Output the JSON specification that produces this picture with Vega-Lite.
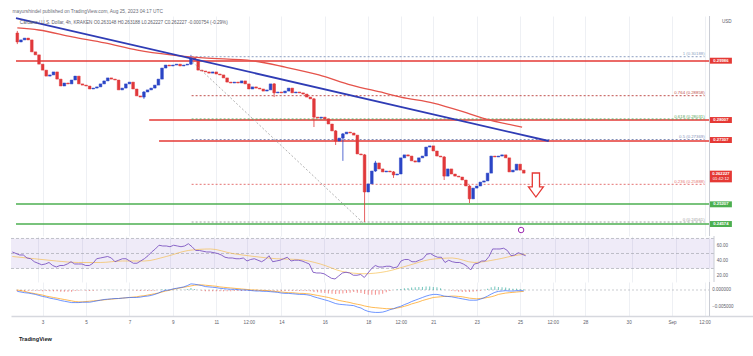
{
"$schema":"https://vega.github.io/schema/vega-lite/v6.json",
"autosize":{"type":"pad"},
"padding":{"left":10,"top":8,"right":0,"bottom":0},
"background":"#ffffff",
"spacing":0,
"bounds":"flush",
"config":{"view":{"stroke":null},"font":"Liberation Sans","concat":{"spacing":0}},
"title":{"text":"mayurshindel published on TradingView.com, Aug 25, 2023 04:17 UTC","anchor":"start","fontSize":4.8,"fontWeight":"normal","color":"#6a6d78","offset":2,"dx":2,"dy":1},
"datasets":{
"c":[
{"t":1.8333,"o":0.3091,"c":0.3061,"hi":0.3098,"lo":0.3054,"r":52,"m":-0.0004,"s":0.0,"hg":-0.0004},
{"t":2,"o":0.3061,"c":0.3068,"r":50,"m":-0.0006,"s":-0.0002,"hg":-0.0004},
{"t":2.1667,"o":0.3068,"c":0.3074,"r":48,"m":-0.0008,"s":-0.0004,"hg":-0.0004},
{"t":2.3333,"o":0.3074,"c":0.3068,"r":48,"m":-0.0009,"s":-0.0007,"hg":-0.0002},
{"t":2.5,"o":0.3068,"c":0.3028,"r":44,"m":-0.0011,"s":-0.0009,"hg":-0.0002},
{"t":2.6667,"o":0.3028,"c":0.3018,"r":43,"m":-0.0013,"s":-0.0011,"hg":-0.0002},
{"t":2.8333,"o":0.3018,"c":0.2987,"r":39,"m":-0.0016,"s":-0.0013,"hg":-0.0003},
{"t":3,"o":0.2987,"c":0.2967,"r":37,"m":-0.0019,"s":-0.0015,"hg":-0.0004},
{"t":3.1667,"o":0.2967,"c":0.2947,"r":35,"m":-0.0021,"s":-0.0018,"hg":-0.0003},
{"t":3.3333,"o":0.2947,"c":0.2951,"r":36,"m":-0.0024,"s":-0.002,"hg":-0.0004},
{"t":3.5,"o":0.2951,"c":0.2961,"r":38,"m":-0.0026,"s":-0.0022,"hg":-0.0004},
{"t":3.6667,"o":0.2961,"c":0.2937,"r":34,"m":-0.0028,"s":-0.0024,"hg":-0.0004},
{"t":3.8333,"o":0.2937,"c":0.2914,"r":32,"m":-0.0031,"s":-0.0026,"hg":-0.0005},
{"t":4,"o":0.2914,"c":0.2924,"r":34,"m":-0.0033,"s":-0.0028,"hg":-0.0005},
{"t":4.1667,"o":0.2924,"c":0.2921,"r":34,"m":-0.0035,"s":-0.003,"hg":-0.0005},
{"t":4.3333,"o":0.2921,"c":0.2934,"r":36,"m":-0.0037,"s":-0.0032,"hg":-0.0005},
{"t":4.5,"o":0.2934,"c":0.2947,"r":39,"m":-0.0037,"s":-0.0034,"hg":-0.0003},
{"t":4.6667,"o":0.2947,"c":0.2921,"r":36,"m":-0.0037,"s":-0.0035,"hg":-0.0002},
{"t":4.8333,"o":0.2921,"c":0.2917,"r":36,"m":-0.0036,"s":-0.0035,"hg":-0.0001},
{"t":5,"o":0.2917,"c":0.2914,"r":36,"m":-0.0036,"s":-0.0034,"hg":-0.0002},
{"t":5.1667,"o":0.2914,"c":0.2904,"r":34,"m":-0.0036,"s":-0.0033,"hg":-0.0003},
{"t":5.3333,"o":0.2904,"c":0.2907,"r":34,"m":-0.0034,"s":-0.0032,"hg":-0.0002},
{"t":5.5,"o":0.2907,"c":0.2911,"r":37,"m":-0.0032,"s":-0.0031,"hg":-0.0001},
{"t":5.6667,"o":0.2911,"c":0.2921,"r":43,"m":-0.003,"s":-0.003,"hg":0.0},
{"t":5.8333,"o":0.2921,"c":0.2931,"r":44,"m":-0.0028,"s":-0.0029,"hg":0.0001},
{"t":6,"o":0.2931,"c":0.2941,"r":45,"m":-0.0027,"s":-0.0028,"hg":0.0001},
{"t":6.1667,"o":0.2941,"c":0.2937,"r":46,"m":-0.0026,"s":-0.0027,"hg":0.0001},
{"t":6.3333,"o":0.2937,"c":0.2934,"r":44,"m":-0.0025,"s":-0.0026,"hg":0.0001},
{"t":6.5,"o":0.2934,"c":0.2901,"r":39,"m":-0.0025,"s":-0.0025,"hg":0.0},
{"t":6.6667,"o":0.2901,"c":0.2907,"r":41,"m":-0.0024,"s":-0.0024,"hg":0.0},
{"t":6.8333,"o":0.2907,"c":0.2921,"r":43,"m":-0.0023,"s":-0.0023,"hg":0.0},
{"t":7,"o":0.2921,"c":0.2927,"r":43,"m":-0.0022,"s":-0.0022,"hg":0.0},
{"t":7.1667,"o":0.2927,"c":0.2904,"r":40,"m":-0.0022,"s":-0.0021,"hg":-0.0001},
{"t":7.3333,"o":0.2904,"c":0.2881,"r":37,"m":-0.0022,"s":-0.002,"hg":-0.0002},
{"t":7.5,"o":0.2881,"c":0.2877,"r":37,"m":-0.0021,"s":-0.0018,"hg":-0.0003},
{"t":7.6667,"o":0.2877,"c":0.2894,"hi":0.2897,"lo":0.2871,"r":40,"m":-0.0019,"s":-0.0017,"hg":-0.0002},
{"t":7.8333,"o":0.2894,"c":0.2901,"r":43,"m":-0.0018,"s":-0.0015,"hg":-0.0003},
{"t":8,"o":0.2901,"c":0.2907,"r":47,"m":-0.0016,"s":-0.0013,"hg":-0.0003},
{"t":8.1667,"o":0.2907,"c":0.2917,"r":52,"m":-0.0013,"s":-0.0011,"hg":-0.0002},
{"t":8.3333,"o":0.2917,"c":0.2937,"r":56,"m":-0.0009,"s":-0.0009,"hg":0.0},
{"t":8.5,"o":0.2937,"c":0.2974,"r":61,"m":-0.0004,"s":-0.0006,"hg":0.0002},
{"t":8.6667,"o":0.2974,"c":0.2984,"r":60,"m":-0.0001,"s":-0.0003,"hg":0.0002},
{"t":8.8333,"o":0.2984,"c":0.2981,"r":60,"m":0.0,"s":-0.0001,"hg":0.0001},
{"t":9,"o":0.2981,"c":0.2984,"r":59,"m":0.0003,"s":0.0002,"hg":0.0001},
{"t":9.1667,"o":0.2984,"c":0.2987,"r":61,"m":0.0005,"s":0.0004,"hg":0.0001},
{"t":9.3333,"o":0.2987,"c":0.2981,"r":60,"m":0.0007,"s":0.0006,"hg":0.0001},
{"t":9.5,"o":0.2981,"c":0.2984,"r":59,"m":0.0009,"s":0.0008,"hg":0.0001},
{"t":9.6667,"o":0.2984,"c":0.2987,"r":60,"m":0.0013,"s":0.001,"hg":0.0003},
{"t":9.8333,"o":0.2987,"c":0.3008,"hi":0.3018,"lo":0.2984,"r":63,"m":0.0018,"s":0.0012,"hg":0.0006},
{"t":10,"o":0.3008,"c":0.3001,"r":59,"m":0.0017,"s":0.0014,"hg":0.0003},
{"t":10.1667,"o":0.3001,"c":0.2967,"r":54,"m":0.0015,"s":0.0015,"hg":0.0},
{"t":10.3333,"o":0.2967,"c":0.2964,"r":54,"m":0.0013,"s":0.0015,"hg":-0.0002},
{"t":10.5,"o":0.2964,"c":0.2961,"r":53,"m":0.001,"s":0.0014,"hg":-0.0004},
{"t":10.6667,"o":0.2961,"c":0.2957,"r":52,"m":0.0009,"s":0.0013,"hg":-0.0004},
{"t":10.8333,"o":0.2957,"c":0.2961,"r":52,"m":0.0008,"s":0.0012,"hg":-0.0004},
{"t":11,"o":0.2961,"c":0.2954,"r":51,"m":0.0007,"s":0.0011,"hg":-0.0004},
{"t":11.1667,"o":0.2954,"c":0.2951,"r":50,"m":0.0005,"s":0.0009,"hg":-0.0004},
{"t":11.3333,"o":0.2951,"c":0.2941,"r":48,"m":0.0004,"s":0.0008,"hg":-0.0004},
{"t":11.5,"o":0.2941,"c":0.2927,"r":45,"m":0.0003,"s":0.0007,"hg":-0.0004},
{"t":11.6667,"o":0.2927,"c":0.2924,"r":44,"m":0.0002,"s":0.0006,"hg":-0.0004},
{"t":11.8333,"o":0.2924,"c":0.2927,"r":44,"m":0.0002,"s":0.0005,"hg":-0.0003},
{"t":12,"o":0.2927,"c":0.2924,"r":43,"m":0.0001,"s":0.0004,"hg":-0.0003},
{"t":12.1667,"o":0.2924,"c":0.2931,"r":43,"m":0.0,"s":0.0003,"hg":-0.0003},
{"t":12.3333,"o":0.2931,"c":0.2921,"r":44,"m":0.0,"s":0.0002,"hg":-0.0002},
{"t":12.5,"o":0.2921,"c":0.2904,"r":40,"m":-0.0001,"s":0.0001,"hg":-0.0002},
{"t":12.6667,"o":0.2904,"c":0.2911,"r":42,"m":-0.0002,"s":0.0,"hg":-0.0002},
{"t":12.8333,"o":0.2911,"c":0.2907,"r":43,"m":-0.0003,"s":0.0,"hg":-0.0003},
{"t":13,"o":0.2907,"c":0.2904,"r":41,"m":-0.0003,"s":-0.0001,"hg":-0.0002},
{"t":13.1667,"o":0.2904,"c":0.2897,"r":39,"m":-0.0004,"s":-0.0001,"hg":-0.0003},
{"t":13.3333,"o":0.2897,"c":0.2901,"r":42,"m":-0.0004,"s":-0.0002,"hg":-0.0002},
{"t":13.5,"o":0.2901,"c":0.2921,"r":47,"m":-0.0005,"s":-0.0003,"hg":-0.0002},
{"t":13.6667,"o":0.2921,"c":0.2891,"hi":0.2924,"lo":0.2877,"r":39,"m":-0.0006,"s":-0.0004,"hg":-0.0002},
{"t":13.8333,"o":0.2891,"c":0.2894,"r":40,"m":-0.0007,"s":-0.0005,"hg":-0.0002},
{"t":14,"o":0.2894,"c":0.2891,"r":41,"m":-0.0009,"s":-0.0006,"hg":-0.0003},
{"t":14.1667,"o":0.2891,"c":0.2897,"r":43,"m":-0.001,"s":-0.0007,"hg":-0.0003},
{"t":14.3333,"o":0.2897,"c":0.2907,"r":45,"m":-0.001,"s":-0.0008,"hg":-0.0002},
{"t":14.5,"o":0.2907,"c":0.2891,"r":40,"m":-0.0011,"s":-0.0008,"hg":-0.0003},
{"t":14.6667,"o":0.2891,"c":0.2894,"r":41,"m":-0.0012,"s":-0.0009,"hg":-0.0003},
{"t":14.8333,"o":0.2894,"c":0.2891,"r":41,"m":-0.0013,"s":-0.001,"hg":-0.0003},
{"t":15,"o":0.2891,"c":0.2887,"r":40,"m":-0.0013,"s":-0.001,"hg":-0.0003},
{"t":15.1667,"o":0.2887,"c":0.2877,"r":38,"m":-0.0014,"s":-0.0011,"hg":-0.0003},
{"t":15.3333,"o":0.2877,"c":0.2871,"r":36,"m":-0.0016,"s":-0.0012,"hg":-0.0004},
{"t":15.5,"o":0.2871,"c":0.281,"hi":0.2874,"lo":0.2777,"r":25,"m":-0.002,"s":-0.0014,"hg":-0.0006},
{"t":15.6667,"o":0.281,"c":0.2807,"r":24,"m":-0.0023,"s":-0.0016,"hg":-0.0007},
{"t":15.8333,"o":0.2807,"c":0.281,"r":24,"m":-0.0026,"s":-0.0018,"hg":-0.0008},
{"t":16,"o":0.281,"c":0.2804,"r":23,"m":-0.0029,"s":-0.002,"hg":-0.0009},
{"t":16.1667,"o":0.2804,"c":0.2787,"r":20,"m":-0.0032,"s":-0.0022,"hg":-0.001},
{"t":16.3333,"o":0.2787,"c":0.2764,"r":17,"m":-0.0036,"s":-0.0025,"hg":-0.0011},
{"t":16.5,"o":0.2764,"c":0.273,"hi":0.2767,"lo":0.2717,"r":16,"m":-0.004,"s":-0.0028,"hg":-0.0012},
{"t":16.6667,"o":0.273,"c":0.274,"r":20,"m":-0.0042,"s":-0.0031,"hg":-0.0011},
{"t":16.8333,"o":0.274,"c":0.2754,"hi":0.2757,"lo":0.2664,"r":24,"m":-0.0043,"s":-0.0033,"hg":-0.001},
{"t":17,"o":0.2754,"c":0.276,"r":25,"m":-0.0044,"s":-0.0035,"hg":-0.0009},
{"t":17.1667,"o":0.276,"c":0.2757,"r":24,"m":-0.0045,"s":-0.0037,"hg":-0.0008},
{"t":17.3333,"o":0.2757,"c":0.275,"r":21,"m":-0.0046,"s":-0.004,"hg":-0.0006},
{"t":17.5,"o":0.275,"c":0.2687,"r":21,"m":-0.005,"s":-0.0042,"hg":-0.0008},
{"t":17.6667,"o":0.2687,"c":0.2684,"r":22,"m":-0.0053,"s":-0.0044,"hg":-0.0009},
{"t":17.8333,"o":0.2684,"c":0.256,"hi":0.2687,"lo":0.246,"r":18,"m":-0.0059,"s":-0.0047,"hg":-0.0012},
{"t":18,"o":0.256,"c":0.2587,"r":24,"m":-0.0063,"s":-0.0049,"hg":-0.0014},
{"t":18.1667,"o":0.2587,"c":0.263,"r":30,"m":-0.0065,"s":-0.0051,"hg":-0.0014},
{"t":18.3333,"o":0.263,"c":0.2657,"hi":0.2664,"lo":0.2627,"r":34,"m":-0.0066,"s":-0.0052,"hg":-0.0014},
{"t":18.5,"o":0.2657,"c":0.2637,"r":32,"m":-0.0066,"s":-0.0053,"hg":-0.0013},
{"t":18.6667,"o":0.2637,"c":0.2627,"r":32,"m":-0.0065,"s":-0.0054,"hg":-0.0011},
{"t":18.8333,"o":0.2627,"c":0.263,"r":33,"m":-0.0062,"s":-0.0055,"hg":-0.0007},
{"t":19,"o":0.263,"c":0.2627,"r":33,"m":-0.0058,"s":-0.0055,"hg":-0.0003},
{"t":19.1667,"o":0.2627,"c":0.2617,"hi":0.263,"lo":0.2607,"r":31,"m":-0.0055,"s":-0.0055,"hg":0.0},
{"t":19.3333,"o":0.2617,"c":0.262,"r":32,"m":-0.0051,"s":-0.0053,"hg":0.0002},
{"t":19.5,"o":0.262,"c":0.2674,"r":40,"m":-0.0048,"s":-0.0051,"hg":0.0003},
{"t":19.6667,"o":0.2674,"c":0.2684,"r":42,"m":-0.0043,"s":-0.0048,"hg":0.0005},
{"t":19.8333,"o":0.2684,"c":0.268,"r":42,"m":-0.0039,"s":-0.0045,"hg":0.0006},
{"t":20,"o":0.268,"c":0.2664,"r":39,"m":-0.0034,"s":-0.0041,"hg":0.0007},
{"t":20.1667,"o":0.2664,"c":0.266,"r":39,"m":-0.003,"s":-0.0038,"hg":0.0008},
{"t":20.3333,"o":0.266,"c":0.2674,"r":41,"m":-0.0026,"s":-0.0035,"hg":0.0009},
{"t":20.5,"o":0.2674,"c":0.268,"r":43,"m":-0.0022,"s":-0.0031,"hg":0.0009},
{"t":20.6667,"o":0.268,"c":0.271,"r":49,"m":-0.0018,"s":-0.0028,"hg":0.001},
{"t":20.8333,"o":0.271,"c":0.2714,"r":50,"m":-0.0015,"s":-0.0025,"hg":0.001},
{"t":21,"o":0.2714,"c":0.2697,"r":47,"m":-0.0013,"s":-0.0022,"hg":0.0009},
{"t":21.1667,"o":0.2697,"c":0.268,"r":45,"m":-0.0013,"s":-0.0021,"hg":0.0008},
{"t":21.3333,"o":0.268,"c":0.2677,"r":45,"m":-0.0015,"s":-0.002,"hg":0.0005},
{"t":21.5,"o":0.2677,"c":0.2613,"hi":0.268,"lo":0.26,"r":38,"m":-0.0018,"s":-0.0019,"hg":0.0001},
{"t":21.6667,"o":0.2613,"c":0.2637,"r":41,"m":-0.0019,"s":-0.0019,"hg":0.0},
{"t":21.8333,"o":0.2637,"c":0.262,"r":39,"m":-0.002,"s":-0.0018,"hg":-0.0002},
{"t":22,"o":0.262,"c":0.2613,"r":38,"m":-0.0022,"s":-0.0018,"hg":-0.0004},
{"t":22.1667,"o":0.2613,"c":0.261,"r":38,"m":-0.0024,"s":-0.0019,"hg":-0.0005},
{"t":22.3333,"o":0.261,"c":0.26,"r":36,"m":-0.0026,"s":-0.002,"hg":-0.0006},
{"t":22.5,"o":0.26,"c":0.258,"r":33,"m":-0.0028,"s":-0.0022,"hg":-0.0006},
{"t":22.6667,"o":0.258,"c":0.2537,"hi":0.2583,"lo":0.2523,"r":28,"m":-0.003,"s":-0.0024,"hg":-0.0006},
{"t":22.8333,"o":0.2537,"c":0.2573,"r":36,"m":-0.003,"s":-0.0025,"hg":-0.0005},
{"t":23,"o":0.2573,"c":0.258,"r":37,"m":-0.003,"s":-0.0026,"hg":-0.0004},
{"t":23.1667,"o":0.258,"c":0.2593,"r":40,"m":-0.0027,"s":-0.0025,"hg":-0.0002},
{"t":23.3333,"o":0.2593,"c":0.2597,"r":40,"m":-0.0023,"s":-0.0024,"hg":0.0001},
{"t":23.5,"o":0.2597,"c":0.2623,"r":46,"m":-0.0018,"s":-0.0022,"hg":0.0004},
{"t":23.6667,"o":0.2623,"c":0.268,"r":56,"m":-0.0012,"s":-0.002,"hg":0.0008},
{"t":23.8333,"o":0.268,"c":0.2677,"r":56,"m":-0.0007,"s":-0.0017,"hg":0.001},
{"t":24,"o":0.2677,"c":0.268,"r":56,"m":-0.0004,"s":-0.0013,"hg":0.0009},
{"t":24.1667,"o":0.268,"c":0.2684,"r":57,"m":-0.0003,"s":-0.0011,"hg":0.0008},
{"t":24.3333,"o":0.2684,"c":0.2674,"r":54,"m":-0.0002,"s":-0.0009,"hg":0.0007},
{"t":24.5,"o":0.2674,"c":0.2627,"r":47,"m":-0.0003,"s":-0.0008,"hg":0.0005},
{"t":24.6667,"o":0.2627,"c":0.2633,"r":48,"m":-0.0003,"s":-0.0007,"hg":0.0004},
{"t":24.8333,"o":0.2633,"c":0.2653,"r":51,"m":-0.0002,"s":-0.0006,"hg":0.0004},
{"t":25,"o":0.2653,"c":0.2633,"r":49,"m":-0.0002,"s":-0.0005,"hg":0.0003},
{"t":25.1667,"o":0.2633,"c":0.2623,"r":47,"m":-0.0002,"s":-0.0004,"hg":0.0002}
],
"ma":[{"t":1.8333,"p":0.3108},{"t":2.818,"p":0.3101},{"t":4.364,"p":0.3078},{"t":5.864,"p":0.3058},{"t":7.364,"p":0.3034},{"t":8.909,"p":0.3018},{"t":10.409,"p":0.3008},{"t":12.682,"p":0.2998},{"t":14.182,"p":0.2977},{"t":15.727,"p":0.2951},{"t":17.227,"p":0.2917},{"t":18.727,"p":0.2891},{"t":19.5,"p":0.2877},{"t":21,"p":0.2857},{"t":22.545,"p":0.2824},{"t":23.273,"p":0.2807},{"t":25.091,"p":0.2777}],
"rsima":[{"t":1.8333,"v":46},{"t":2.8333,"v":43},{"t":3.8333,"v":40},{"t":4.8333,"v":38},{"t":5.8333,"v":38},{"t":6.8333,"v":40},{"t":7.8333,"v":40},{"t":8.8333,"v":46},{"t":9.8333,"v":54},{"t":10.8333,"v":56},{"t":11.8333,"v":50},{"t":12.8333,"v":46},{"t":13.8333,"v":43},{"t":14.8333,"v":42},{"t":15.8333,"v":36},{"t":16.8333,"v":26},{"t":17.8333,"v":23},{"t":18.8333,"v":26},{"t":19.8333,"v":34},{"t":20.8333,"v":42},{"t":21.8333,"v":44},{"t":22.8333,"v":38},{"t":23.8333,"v":42},{"t":24.8333,"v":48},{"t":25.1667,"v":49}],
"hl":[{"p":0.29975,"a":1.7727,"b":33.727,"k":"red"},{"p":0.28004,"a":7.909,"b":33.727,"k":"red"},{"p":0.27303,"a":8.364,"b":33.727,"k":"red"},{"p":0.25198,"a":1.7727,"b":33.727,"k":"green"},{"p":0.2453,"a":1.7727,"b":33.727,"k":"green"}],
"fib":[{"p":0.30118,"lab":"1 (0.30188)","lv":"1"},{"p":0.28816,"lab":"0.764 (0.28858)","lv":"0.764"},{"p":0.28037,"lab":"0.618 (0.28031)","lv":"0.618"},{"p":0.27353,"lab":"0.5 (0.27369)","lv":"0.5"},{"p":0.25856,"lab":"0.236 (0.25888)","lv":"0.236"},{"p":0.24597,"lab":"0 (0.24561)","lv":"0"}],
"box":[{"p":0.29985,"lab":"0.29986","k":"red"},{"p":0.28004,"lab":"0.28007","k":"red"},{"p":0.27336,"lab":"0.27307","k":"red"},{"p":0.25188,"lab":"0.25207","k":"green"},{"p":0.2453,"lab":"0.24574","k":"green"}]
},
"vconcat":[
{"width":743,"height":220,
"resolve":{"scale":{"color":"independent"}},
"layer":[
{"data":{"name":"hl"},"mark":{"type":"rule","strokeWidth":1.3},
"encoding":{"x":{"field":"a","type":"quantitative","scale":{"domain":[1.7727,35.545],"nice":false,"zero":false},"axis":{"values":[3,5,7,9,11,12.5,14,16,18,19.5,21,23,25,26.5,28,30,32,33.5],"grid":true,"gridColor":"#eef0f4","labels":false,"ticks":false,"domain":false,"title":null}},"x2":{"field":"b"},
"y":{"field":"p","type":"quantitative","scale":{"domain":[0.2413,0.31478],"nice":false,"zero":false},"axis":null},
"color":{"field":"k","type":"nominal","scale":{"domain":["red","green"],"range":["#e53935","#4caf50"]},"legend":null}}},
{"data":{"name":"fib"},"mark":{"type":"rule","strokeWidth":1,"strokeDash":[2,2]},
"encoding":{"x":{"datum":9.864,"type":"quantitative","scale":{"domain":[1.7727,35.545],"nice":false,"zero":false}},"x2":{"datum":33.5},
"y":{"field":"p","type":"quantitative","scale":{"domain":[0.2413,0.31478],"nice":false,"zero":false},"axis":null},
"color":{"field":"lv","type":"nominal","scale":{"domain":["1","0.764","0.618","0.5","0.236","0"],"range":["#8d9fc2","#c0504d","#5aa55a","#8390b8","#e57373","#9e9e9e"]},"legend":null}}},
{"data":{"name":"fib"},"mark":{"type":"text","align":"right","baseline":"bottom","dy":-0.5,"fontSize":4.3},
"encoding":{"x":{"datum":33.5,"type":"quantitative","scale":{"domain":[1.7727,35.545],"nice":false,"zero":false}},
"y":{"field":"p","type":"quantitative","scale":{"domain":[0.2413,0.31478],"nice":false,"zero":false},"axis":null},
"text":{"field":"lab"},
"color":{"field":"lv","type":"nominal","scale":{"domain":["1","0.764","0.618","0.5","0.236","0"],"range":["#8d9fc2","#c0504d","#5aa55a","#8390b8","#e57373","#9e9e9e"]},"legend":null}}},
{"data":{"name":"c"},"transform":[{"filter":"isValid(datum.lo)"}],"mark":{"type":"rule","strokeWidth":0.8},
"encoding":{"x":{"field":"t","type":"quantitative","scale":{"domain":[1.7727,35.545],"nice":false,"zero":false}},
"y":{"field":"lo","type":"quantitative","scale":{"domain":[0.2413,0.31478],"nice":false,"zero":false},"axis":null},"y2":{"field":"hi"},
"color":{"condition":{"test":"datum.c<datum.o","value":"#e0383b"},"value":"#2b45c6"}}},
{"data":{"name":"c"},"mark":{"type":"bar","width":2.7,"strokeWidth":0.5},
"encoding":{"x":{"field":"t","type":"quantitative","scale":{"domain":[1.7727,35.545],"nice":false,"zero":false}},
"y":{"field":"o","type":"quantitative","scale":{"domain":[0.2413,0.31478],"nice":false,"zero":false},"axis":null},"y2":{"field":"c"},
"color":{"condition":{"test":"datum.c<datum.o","value":"#e0383b"},"value":"#2b45c6"},
"stroke":{"condition":{"test":"datum.c<datum.o","value":"#e0383b"},"value":"#2b45c6"}}},
{"data":{"name":"ma"},"mark":{"type":"line","color":"#e5534b","strokeWidth":1.3,"interpolate":"monotone"},
"encoding":{"x":{"field":"t","type":"quantitative","scale":{"domain":[1.7727,35.545],"nice":false,"zero":false}},
"y":{"field":"p","type":"quantitative","scale":{"domain":[0.2413,0.31478],"nice":false,"zero":false},"axis":null}}},
{"data":{"values":[{"t":9.909,"p":0.29941},{"t":17.773,"p":0.24564}]},"mark":{"type":"line","color":"#9e9e9e","strokeWidth":0.8,"strokeDash":[2,2]},
"encoding":{"x":{"field":"t","type":"quantitative","scale":{"domain":[1.7727,35.545],"nice":false,"zero":false}},
"y":{"field":"p","type":"quantitative","scale":{"domain":[0.2413,0.31478],"nice":false,"zero":false},"axis":null}}},
{"data":{"values":[{"t":1.7727,"p":0.31411},{"t":26.318,"p":0.27303}]},"mark":{"type":"line","color":"#2f3cb5","strokeWidth":1.8},
"encoding":{"x":{"field":"t","type":"quantitative","scale":{"domain":[1.7727,35.545],"nice":false,"zero":false}},
"y":{"field":"p","type":"quantitative","scale":{"domain":[0.2413,0.31478],"nice":false,"zero":false},"axis":null}}},
{"data":{"values":[{"txt":"Cardano / U.S. Dollar, 4h, KRAKEN  O0.263148  H0.263188  L0.262227  C0.262227  -0.000754 (-0.29%)"}]},"mark":{"type":"text","align":"left","baseline":"middle","fontSize":4.6,"color":"#5d606b"},
"encoding":{"x":{"datum":1.95,"type":"quantitative","scale":{"domain":[1.7727,35.545],"nice":false,"zero":false}},"y":{"datum":0.3125,"type":"quantitative","scale":{"domain":[0.2413,0.31478],"nice":false,"zero":false},"axis":null},"text":{"field":"txt"}}},
{"data":{"values":[{"t":25.727,"p":0.25833}]},"mark":{"type":"point","shape":"M-0.3,-1L0.3,-1L0.3,0.15L0.62,0.15L0,1L-0.62,0.15L-0.3,0.15Z","size":576,"filled":true,"fill":"#ffffff","stroke":"#e53935","strokeWidth":1.3,"opacity":1},
"encoding":{"x":{"field":"t","type":"quantitative","scale":{"domain":[1.7727,35.545],"nice":false,"zero":false}},"y":{"field":"p","type":"quantitative","scale":{"domain":[0.2413,0.31478],"nice":false,"zero":false},"axis":null}}},
{"data":{"values":[{"t":25.045,"p":0.2433}]},"mark":{"type":"point","shape":"circle","size":30,"filled":true,"fill":"#ffffff","stroke":"#9c27b0","strokeWidth":1,"opacity":1},
"encoding":{"x":{"field":"t","type":"quantitative","scale":{"domain":[1.7727,35.545],"nice":false,"zero":false}},"y":{"field":"p","type":"quantitative","scale":{"domain":[0.2413,0.31478],"nice":false,"zero":false},"axis":null}}},
{"data":{"values":[{}]},"mark":{"type":"rule","color":"#c9ccd4","strokeWidth":1},
"encoding":{"x":{"datum":33.727,"type":"quantitative","scale":{"domain":[1.7727,35.545],"nice":false,"zero":false}}}},
{"data":{"name":"box"},"mark":{"type":"point","shape":"M-1,-0.27L1,-0.27L1,0.27L-1,0.27Z","size":484,"filled":true,"opacity":1},
"encoding":{"x":{"datum":34.25,"type":"quantitative","scale":{"domain":[1.7727,35.545],"nice":false,"zero":false}},"y":{"field":"p","type":"quantitative","scale":{"domain":[0.2413,0.31478],"nice":false,"zero":false},"axis":null},
"color":{"field":"k","type":"nominal","scale":{"domain":["red","green"],"range":["#e53935","#4caf50"]},"legend":null}}},
{"data":{"name":"box"},"mark":{"type":"text","fontSize":4.2,"fontWeight":"bold","color":"#ffffff","align":"center","baseline":"middle"},
"encoding":{"x":{"datum":34.25,"type":"quantitative","scale":{"domain":[1.7727,35.545],"nice":false,"zero":false}},"y":{"field":"p","type":"quantitative","scale":{"domain":[0.2413,0.31478],"nice":false,"zero":false},"axis":null},"text":{"field":"lab"}}},
{"data":{"values":[{"p":0.26117}]},"mark":{"type":"point","shape":"M-1,-0.53L1,-0.53L1,0.53L-1,0.53Z","size":484,"filled":true,"color":"#e53935","opacity":1},
"encoding":{"x":{"datum":34.25,"type":"quantitative","scale":{"domain":[1.7727,35.545],"nice":false,"zero":false}},"y":{"field":"p","type":"quantitative","scale":{"domain":[0.2413,0.31478],"nice":false,"zero":false},"axis":null}}},
{"data":{"values":[{"p":0.26117,"a":"0.262227","b":"01:42:12"}]},"mark":{"type":"text","fontSize":4.2,"fontWeight":"bold","color":"#ffffff","align":"center","baseline":"middle","dy":-2.6},
"encoding":{"x":{"datum":34.25,"type":"quantitative","scale":{"domain":[1.7727,35.545],"nice":false,"zero":false}},"y":{"field":"p","type":"quantitative","scale":{"domain":[0.2413,0.31478],"nice":false,"zero":false},"axis":null},"text":{"field":"a"}}},
{"data":{"values":[{"p":0.26117,"a":"0.262227","b":"01:42:12"}]},"mark":{"type":"text","fontSize":4.2,"color":"#ffffff","align":"center","baseline":"middle","dy":2.6},
"encoding":{"x":{"datum":34.25,"type":"quantitative","scale":{"domain":[1.7727,35.545],"nice":false,"zero":false}},"y":{"field":"p","type":"quantitative","scale":{"domain":[0.2413,0.31478],"nice":false,"zero":false},"axis":null},"text":{"field":"b"}}},
{"data":{"values":[{"txt":"USD"}]},"mark":{"type":"text","fontSize":4.6,"color":"#5d606b","align":"left","baseline":"middle"},
"encoding":{"x":{"datum":34.3,"type":"quantitative","scale":{"domain":[1.7727,35.545],"nice":false,"zero":false}},"y":{"datum":0.3128,"type":"quantitative","scale":{"domain":[0.2413,0.31478],"nice":false,"zero":false},"axis":null},"text":{"field":"txt"}}}
]},
{"width":743,"height":46,
"layer":[
{"data":{"values":[{}]},"mark":{"type":"rect","color":"#7e57c2","opacity":0.12},
"encoding":{"x":{"datum":1.7727,"type":"quantitative","scale":{"domain":[1.7727,35.545],"nice":false,"zero":false},"axis":{"values":[3,5,7,9,11,12.5,14,16,18,19.5,21,23,25,26.5,28,30,32,33.5],"grid":true,"gridColor":"#eef0f4","labels":false,"ticks":false,"domain":false,"title":null}},"x2":{"datum":33.727},
"y":{"datum":30,"type":"quantitative","scale":{"domain":[12,73.3],"nice":false,"zero":false},"axis":null},"y2":{"datum":70}}},
{"data":{"values":[{"v":70},{"v":50},{"v":30}]},"mark":{"type":"rule","color":"#9598a1","strokeWidth":0.7,"strokeDash":[3,2],"opacity":0.8},
"encoding":{"x":{"datum":1.7727,"type":"quantitative","scale":{"domain":[1.7727,35.545],"nice":false,"zero":false}},"x2":{"datum":33.727},
"y":{"field":"v","type":"quantitative","scale":{"domain":[12,73.3],"nice":false,"zero":false},"axis":null}}},
{"data":{"name":"rsima"},"mark":{"type":"line","color":"#f5b942","strokeWidth":0.9,"opacity":0.7,"interpolate":"monotone"},
"encoding":{"x":{"field":"t","type":"quantitative","scale":{"domain":[1.7727,35.545],"nice":false,"zero":false}},
"y":{"field":"v","type":"quantitative","scale":{"domain":[12,73.3],"nice":false,"zero":false},"axis":null}}},
{"data":{"name":"c"},"mark":{"type":"line","color":"#7e57c2","strokeWidth":0.9},
"encoding":{"x":{"field":"t","type":"quantitative","scale":{"domain":[1.7727,35.545],"nice":false,"zero":false}},
"y":{"field":"r","type":"quantitative","scale":{"domain":[12,73.3],"nice":false,"zero":false},"axis":null}}},
{"data":{"values":[{}]},"mark":{"type":"rule","color":"#c9ccd4","strokeWidth":1},
"encoding":{"x":{"datum":33.727,"type":"quantitative","scale":{"domain":[1.7727,35.545],"nice":false,"zero":false}}}},
{"data":{"values":[{"v":60,"lab":"60.00"},{"v":40,"lab":"40.00"},{"v":20,"lab":"20.00"}]},"mark":{"type":"text","fontSize":4.5,"color":"#5d606b","align":"left","baseline":"middle"},
"encoding":{"x":{"datum":33.85,"type":"quantitative","scale":{"domain":[1.7727,35.545],"nice":false,"zero":false}},"y":{"field":"v","type":"quantitative","scale":{"domain":[12,73.3],"nice":false,"zero":false},"axis":null},"text":{"field":"lab"}}}
]},
{"width":743,"height":34,
"title":{"text":"TradingView","orient":"bottom","anchor":"start","fontSize":5.6,"fontWeight":"bold","color":"#131722","offset":13,"dx":8},
"layer":[
{"data":{"values":[{"v":0}]},"mark":{"type":"rule","color":"#9598a1","strokeWidth":0.7,"strokeDash":[2,2],"opacity":0.7},
"encoding":{"x":{"datum":1.7727,"type":"quantitative","scale":{"domain":[1.7727,35.545],"nice":false,"zero":false},"axis":{"values":[3,5,7,9,11,12.5,14,16,18,19.5,21,23,25,26.5,28,30,32,33.5],"format":"d","labelExpr":"datum.value==32?'Sep':(datum.value%1!=0?'12:00':datum.label)","grid":true,"gridColor":"#eef0f4","ticks":false,"domain":true,"domainColor":"#d6d8de","domainWidth":1.5,"labelFontSize":4.6,"labelColor":"#5d606b","labelPadding":3,"labelOverlap":false,"labelFlush":false,"title":null}},"x2":{"datum":33.727},
"y":{"field":"v","type":"quantitative","scale":{"domain":[-0.00765,0.00235],"nice":false,"zero":false},"axis":null}}},
{"data":{"name":"c"},"mark":{"type":"bar","width":1.1,"opacity":0.6},
"encoding":{"x":{"field":"t","type":"quantitative","scale":{"domain":[1.7727,35.545],"nice":false,"zero":false}},
"y":{"field":"hg","type":"quantitative","scale":{"domain":[-0.00765,0.00235],"nice":false,"zero":false},"axis":null},"y2":{"datum":0},
"color":{"condition":{"test":"datum.hg<0","value":"#ef5350"},"value":"#26a69a"}}},
{"data":{"name":"c"},"mark":{"type":"line","color":"#ff9800","strokeWidth":0.9,"opacity":0.75},
"encoding":{"x":{"field":"t","type":"quantitative","scale":{"domain":[1.7727,35.545],"nice":false,"zero":false}},
"y":{"field":"s","type":"quantitative","scale":{"domain":[-0.00765,0.00235],"nice":false,"zero":false},"axis":null}}},
{"data":{"name":"c"},"mark":{"type":"line","color":"#2962ff","strokeWidth":0.9,"opacity":0.75},
"encoding":{"x":{"field":"t","type":"quantitative","scale":{"domain":[1.7727,35.545],"nice":false,"zero":false}},
"y":{"field":"m","type":"quantitative","scale":{"domain":[-0.00765,0.00235],"nice":false,"zero":false},"axis":null}}},
{"data":{"values":[{}]},"mark":{"type":"rule","color":"#c9ccd4","strokeWidth":1},
"encoding":{"x":{"datum":33.727,"type":"quantitative","scale":{"domain":[1.7727,35.545],"nice":false,"zero":false}}}},
{"data":{"values":[{"v":0,"lab":"0.000000"},{"v":-0.005,"lab":"\u22120.005000"}]},"mark":{"type":"text","fontSize":4.5,"color":"#5d606b","align":"left","baseline":"middle"},
"encoding":{"x":{"datum":33.85,"type":"quantitative","scale":{"domain":[1.7727,35.545],"nice":false,"zero":false}},"y":{"field":"v","type":"quantitative","scale":{"domain":[-0.00765,0.00235],"nice":false,"zero":false},"axis":null},"text":{"field":"lab"}}}
]}
]
}
